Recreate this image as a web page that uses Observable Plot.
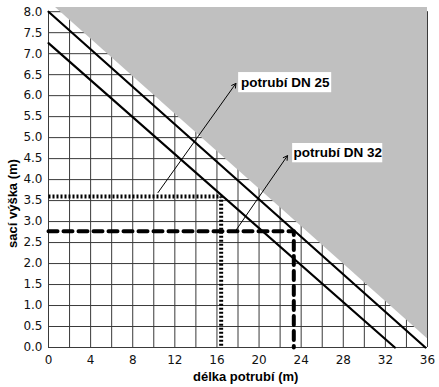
<!DOCTYPE html>
<html>
<head>
<meta charset="utf-8">
<script src="https://cdn.jsdelivr.net/npm/d3@7"></script>
<script src="https://cdn.jsdelivr.net/npm/@observablehq/plot@0.6"></script>
<style>
  html, body { margin: 0; padding: 0; background: #fff; }
</style>
</head>
<body>
<div id="chart"></div>
<script>
// tick labels / grid positions
const xTicks = [0, 4, 8, 12, 16, 20, 24, 28, 32, 36];
const xGrid = [0, 2, 4, 6, 8, 10, 12, 14, 16, 18, 20, 22, 24, 26, 28, 30, 32, 34, 36];
const yTicks = [0, 0.5, 1, 1.5, 2, 2.5, 3, 3.5, 4, 4.5, 5, 5.5, 6, 6.5, 7, 7.5, 8];

// pipe lines (length m, suction height m)
const dn25 = [{x: 0, y: 8.0}, {x: 35.8, y: 0}];
const dn32 = [{x: 0, y: 7.25}, {x: 32.9, y: 0}];

// reading lines
const dotted = [{x: 0, y: 3.6}, {x: 16.4, y: 3.6}, {x: 16.4, y: 0}];
const dashed = [{x: 0, y: 2.77}, {x: 23.3, y: 2.77}, {x: 23.3, y: 0}];

// unusable (gray) region
const grayRegion = [{x: 0.67, y: 8.1}, {x: 36, y: 0.21}];

// annotation arrows and labels
const arrows = [
  {x1: 10.4, y1: 3.69, x2: 17.8, y2: 6.29},
  {x1: 17.8, y1: 2.79, x2: 22.7, y2: 4.57}
];
const labels = [
  {text: "potrubí DN 25", x1: 18.06, x2: 26.9, y1: 6.07, y2: 6.55},
  {text: "potrubí DN 32", x1: 23.19, x2: 31.75, y1: 4.40, y2: 4.86}
];

const titleFont = "'Liberation Sans', Arial, Helvetica, sans-serif";

const chart = Plot.plot({
  width: 439,
  height: 387,
  marginLeft: 48,
  marginRight: 12,
  marginTop: 7,
  marginBottom: 40,
  style: {fontFamily: "'DejaVu Sans', Verdana, sans-serif", fontSize: "12px", color: "#111", background: "#fff"},
  x: {domain: [0, 36], ticks: xTicks, tickSize: 0, tickPadding: 8, label: null, tickFormat: d => String(d)},
  y: {domain: [0, 8.1], ticks: yTicks, tickSize: 0, tickPadding: 6, label: null, tickFormat: d3.format(".1f")},
  marks: [
    Plot.ruleX(xGrid, {x: d => d, y1: () => 0, y2: () => 8, stroke: "#3a3a3a", strokeWidth: 1}),
    Plot.ruleY(yTicks, {y: d => d, x1: () => 0, x2: () => 36, stroke: "#3a3a3a", strokeWidth: 1}),
    Plot.areaY(grayRegion, {x: d => d.x, y1: d => d.y, y2: () => 8.1, fill: "#c0c0c0"}),
    Plot.line(dn25, {x: d => d.x, y: d => d.y, stroke: "#000", strokeWidth: 2.2}),
    Plot.line(dn32, {x: d => d.x, y: d => d.y, stroke: "#000", strokeWidth: 2.2}),
    Plot.line(dotted, {x: d => d.x, y: d => d.y, stroke: "#000", strokeWidth: 4, strokeDasharray: "2,2", strokeLinecap: "butt"}),
    Plot.line(dashed, {x: d => d.x, y: d => d.y, stroke: "#000", strokeWidth: 4, strokeDasharray: "9,6"}),
    Plot.arrow(arrows, {x1: d => d.x1, y1: d => d.y1, x2: d => d.x2, y2: d => d.y2, stroke: "#000", strokeWidth: 1, headLength: 7}),
    Plot.rect(labels, {x1: d => d.x1, x2: d => d.x2, y1: d => d.y1, y2: d => d.y2, fill: "#fff"}),
    Plot.text(labels, {x: d => (d.x1 + d.x2) / 2, y: d => (d.y1 + d.y2) / 2, text: d => d.text,
      fontFamily: titleFont, fontWeight: "bold", fontSize: 13.5, fill: "#000"}),
    Plot.text(["délka potrubí (m)"], {x: () => 18.73, y: () => -0.71, text: d => d,
      fontFamily: titleFont, fontWeight: "bold", fontSize: 13, fill: "#000"}),
    Plot.text(["sací výška (m)"], {x: () => -3.42, y: () => 3.43, text: d => d, rotate: -90,
      fontFamily: titleFont, fontWeight: "bold", fontSize: 13, fill: "#000"})
  ]
});
document.getElementById("chart").appendChild(chart);
</script>
</body>
</html>
